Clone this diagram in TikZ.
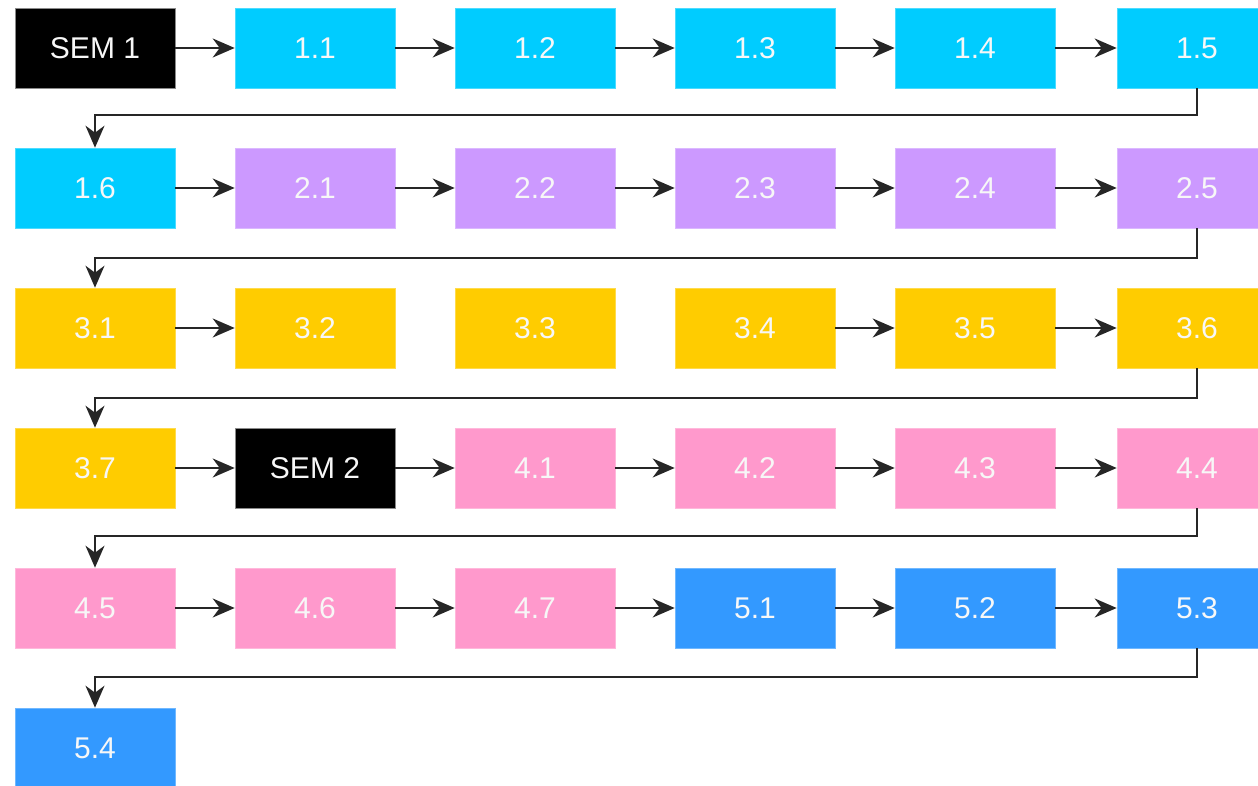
\documentclass[tikz,border=0pt]{standalone}
\usepackage{fontspec}
\setmainfont{Liberation Sans}
\usetikzlibrary{arrows.meta}
\definecolor{cCyan}{HTML}{00CCFF}
\definecolor{cPurple}{HTML}{CC99FF}
\definecolor{cYellow}{HTML}{FFCC00}
\definecolor{cPink}{HTML}{FF99CC}
\definecolor{cBlue}{HTML}{3399FF}
\definecolor{cBorder}{HTML}{8A8A8A}
\tikzset{
  unit/.style={rectangle, minimum width=160pt, minimum height=80pt, inner sep=0pt,
    text=white!94!gray, font=\fontsize{30}{34}\selectfont, draw=#1!70!white, line width=0.6pt, fill=#1},
  sem/.style={unit=black, draw=cBorder},
  flow/.style={draw=black!85, line width=1.8pt, -{Stealth[length=22pt,width=19pt,inset=7pt]}},
}
\begin{document}
\begin{tikzpicture}[x=1pt,y=-1pt]
\useasboundingbox (0,0) rectangle (1258,786);
% row 1
\node[sem] (s1) at (95,48) {SEM 1};
\node[unit=cCyan] (a1) at (315,48) {1.1};
\node[unit=cCyan] (a2) at (535,48) {1.2};
\node[unit=cCyan] (a3) at (755,48) {1.3};
\node[unit=cCyan] (a4) at (975,48) {1.4};
\node[unit=cCyan] (a5) at (1197,48) {1.5};
% row 2
\node[unit=cCyan] (a6) at (95,188) {1.6};
\node[unit=cPurple] (b1) at (315,188) {2.1};
\node[unit=cPurple] (b2) at (535,188) {2.2};
\node[unit=cPurple] (b3) at (755,188) {2.3};
\node[unit=cPurple] (b4) at (975,188) {2.4};
\node[unit=cPurple] (b5) at (1197,188) {2.5};
% row 3
\node[unit=cYellow] (c1) at (95,328) {3.1};
\node[unit=cYellow] (c2) at (315,328) {3.2};
\node[unit=cYellow] (c3) at (535,328) {3.3};
\node[unit=cYellow] (c4) at (755,328) {3.4};
\node[unit=cYellow] (c5) at (975,328) {3.5};
\node[unit=cYellow] (c6) at (1197,328) {3.6};
% row 4
\node[unit=cYellow] (c7) at (95,468) {3.7};
\node[sem] (s2) at (315,468) {SEM 2};
\node[unit=cPink] (d1) at (535,468) {4.1};
\node[unit=cPink] (d2) at (755,468) {4.2};
\node[unit=cPink] (d3) at (975,468) {4.3};
\node[unit=cPink] (d4) at (1197,468) {4.4};
% row 5
\node[unit=cPink] (d5) at (95,608) {4.5};
\node[unit=cPink] (d6) at (315,608) {4.6};
\node[unit=cPink] (d7) at (535,608) {4.7};
\node[unit=cBlue] (e1) at (755,608) {5.1};
\node[unit=cBlue] (e2) at (975,608) {5.2};
\node[unit=cBlue] (e3) at (1197,608) {5.3};
% row 6
\node[unit=cBlue] (e4) at (95,748) {5.4};

% horizontal links
\foreach \p/\q in {s1/a1,a1/a2,a2/a3,a3/a4,a4/a5,
                   a6/b1,b1/b2,b2/b3,b3/b4,b4/b5,
                   c1/c2,c4/c5,c5/c6,
                   c7/s2,s2/d1,d1/d2,d2/d3,d3/d4,
                   d5/d6,d6/d7,d7/e1,e1/e2,e2/e3}
  \draw[flow] (\p.east) -- (\q.west);

% row-to-row links
\draw[flow] (a5.south) -- ++(0,27) -| (a6.north);
\draw[flow] (b5.south) -- ++(0,30) -| (c1.north);
\draw[flow] (c6.south) -- ++(0,30) -| (c7.north);
\draw[flow] (d4.south) -- ++(0,28) -| (d5.north);
\draw[flow] (e3.south) -- ++(0,29) -| (e4.north);
\end{tikzpicture}
\end{document}
